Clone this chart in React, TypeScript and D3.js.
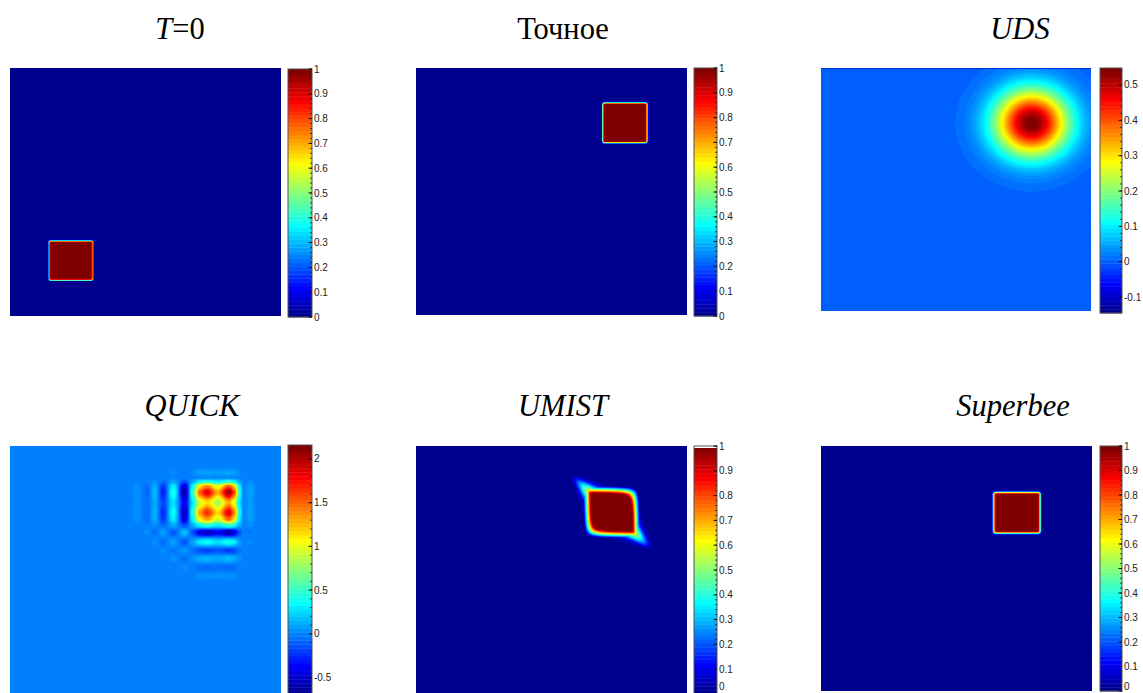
import React, { useMemo } from "react"
import * as d3 from "d3"

// panel titles, row by row
const panelTitles = ["T=0", "Точное", "UDS", "QUICK", "UMIST", "Superbee"]

// colour limits of each panel (caxis)
const colorLimits: [number, number][] = [
  [0, 1],
  [0, 1],
  [-0.145, 0.548],
  [-0.7, 2.16],
  [0, 1],
  [0, 1],
]

const unitTicks = [0, 0.1, 0.2, 0.3, 0.4, 0.5, 0.6, 0.7, 0.8, 0.9, 1]
const colorTicks = [
  unitTicks,
  unitTicks,
  [-0.1, 0, 0.1, 0.2, 0.3, 0.4, 0.5],
  [-0.5, 0, 0.5, 1, 1.5, 2],
  unitTicks,
  unitTicks,
]

// square pulses: [x0, x1, y0, y1, edge width] in unit coordinates (y up)
const squareT0 = [0.145, 0.305, 0.145, 0.302, 0.006]
const squareExact = [0.69, 0.852, 0.698, 0.858, 0.006]
const squareSuperbee = [0.638, 0.808, 0.645, 0.81, 0.012]

// UDS: smeared gaussian [cx, cy, sigma, amplitude]
const udsBlob = [0.78, 0.774, 0.095, 0.55]

// QUICK: separable profile, knots along x and along y
const quickXPos = [0.44, 0.472, 0.506, 0.535, 0.565, 0.603, 0.646, 0.675, 0.7, 0.727, 0.767, 0.808, 0.828, 0.845, 0.862, 0.886, 0.91]
const quickXVal = [0, 0.03, -0.06, 0.12, -0.2, 0.3, -0.45, 0.35, 1.05, 1.3, 0.9, 1.45, 1.1, 0.35, 0, 0.08, 0]
const quickYPos = [0.45, 0.478, 0.511, 0.547, 0.579, 0.613, 0.653, 0.68, 0.705, 0.73, 0.772, 0.814, 0.838, 0.855, 0.872, 0.891, 0.915]
const quickYVal = [0, 0.03, -0.06, 0.12, -0.15, 0.3, -0.45, 0.35, 1.05, 1.3, 0.9, 1.45, 1.1, 0.35, 0, 0.08, 0]

// UMIST: rounded square [cx, cy, half-diagonal, corner rounding, edge]
const umistBody = [0.722, 0.733, 0.107, 0.024, 0.04]
// UMIST: NW/SE smear tails [start, end, peak value, half-width]
const umistTail = [0.06, 0.205, 1.0, 0.04]

const layout = [
  { ix: 10, iy: 68, iw: 271, ih: 248, cx: 288, cy: 69, cw: 24, ch: 248, tx: 180, ty: 39 },
  { ix: 416, iy: 68, iw: 271, ih: 247, cx: 694, cy: 68, cw: 23, ch: 248, tx: 563, ty: 39 },
  { ix: 821, iy: 68, iw: 270, ih: 243, cx: 1100, cy: 68, cw: 22, ch: 245, tx: 1020, ty: 39 },
  { ix: 10, iy: 446, iw: 271, ih: 248, cx: 288, cy: 445, cw: 24, ch: 250, tx: 192, ty: 416 },
  { ix: 416, iy: 446, iw: 271, ih: 248, cx: 694, cy: 446, cw: 23, ch: 248, tx: 563, ty: 416 },
  { ix: 821, iy: 446, iw: 271, ih: 245, cx: 1100, cy: 446, cw: 22, ch: 245, tx: 1013, ty: 416 },
]

const N = 180

// MATLAB jet(64)
function jet64(): string[] {
  const m = 64, n = 16
  const u = [
    ...d3.range(1, n + 1).map(i => i / n),
    ...Array(n - 1).fill(1),
    ...d3.range(n, 0, -1).map(i => i / n),
  ]
  const J = Array.from({ length: m }, () => [0, 0, 0])
  u.forEach((v, i) => {
    const g = 8 + i + 1
    const r = g + n
    const b = g - n
    if (r <= m) J[r - 1][0] = v
    if (g <= m) J[g - 1][1] = v
    if (b >= 1) J[b - 1][2] = v
  })
  return J.map(([r, g, b]) => d3.rgb(r * 255, g * 255, b * 255).formatHex())
}
const JET = jet64()

const clamp01 = (v: number) => Math.max(0, Math.min(1, v))

function squareField(s: number[]) {
  const [x0, x1, y0, y1, e] = s
  const ramp = (d: number) => clamp01(0.5 + d / e)
  return (x: number, y: number) => ramp(x - x0) * ramp(x1 - x) * ramp(y - y0) * ramp(y1 - y)
}

function smoothProfile(pos: number[], val: number[]) {
  return d3
    .scaleLinear()
    .domain(pos)
    .range(val)
    .interpolate((a: number, b: number) => (t: number) => a + (b - a) * t * t * (3 - 2 * t))
    .clamp(true)
}

function umistField() {
  const [cx, cy, S, r, e] = umistBody
  const [t0, t1, tp, tw] = umistTail
  const tail = d3.scaleLinear().domain([t0, t1]).range([tp, 0]).clamp(true)
  const width = d3.scaleLinear().domain([t0, t1]).range([tw, tw * 0.25]).clamp(true)
  return (x: number, y: number) => {
    const dx = x - cx, dy = y - cy
    const a = Math.abs(dx - dy) / Math.SQRT2
    const b = Math.abs(dx + dy) / Math.SQRT2
    const W = S - (Math.sqrt(a * a + r * r) - r)
    const body = clamp01(0.5 + (W - b) / e)
    const t = a > t0 ? tail(a) * Math.exp(-((b / width(a)) ** 2)) : 0
    return Math.max(body, t)
  }
}

const fields: ((x: number, y: number) => number)[] = [
  squareField(squareT0),
  squareField(squareExact),
  (x, y) => {
    const [cx, cy, s, a] = udsBlob
    return a * Math.exp(-((x - cx) ** 2 + (y - cy) ** 2) / (2 * s * s))
  },
  (() => {
    const px = smoothProfile(quickXPos, quickXVal)
    const py = smoothProfile(quickYPos, quickYVal)
    return (x: number, y: number) => px(x) * py(y)
  })(),
  umistField(),
  squareField(squareSuperbee),
]

function Panel({ idx }: { idx: number }) {
  const L = layout[idx]
  const [cmin, cmax] = colorLimits[idx]
  const bands = useMemo(() => {
    const f = fields[idx]
    const values = new Float64Array(N * N)
    for (let j = 0; j < N; j++) {
      for (let i = 0; i < N; i++) {
        values[j * N + i] = f((i + 0.5) / N, 1 - (j + 0.5) / N)
      }
    }
    const thresholds = d3.range(1, 64).map(k => cmin + (k * (cmax - cmin)) / 64)
    return d3.contours().size([N, N]).thresholds(thresholds)(values as any)
  }, [idx])

  const sx = d3.scaleLinear().domain([0, N]).range([L.ix, L.ix + L.iw])
  const sy = d3.scaleLinear().domain([0, N]).range([L.iy, L.iy + L.ih])
  const path = d3.geoPath(
    d3.geoTransform({
      point(x: number, y: number) {
        this.stream.point(sx(x), sy(y))
      },
    })
  )

  const cb = d3.scaleLinear().domain([cmin, cmax]).range([L.cy + L.ch, L.cy])
  const ticks = colorTicks[idx]
  const step = ticks[1] - ticks[0]
  const minor = d3.range(Math.ceil(cmin / (step / 5)), Math.floor(cmax / (step / 5)) + 1).map(k => k * step / 5)
  const clipId = `clip${idx}`
  const title = panelTitles[idx]
  const upright = idx === 1

  return (
    <g>
      <clipPath id={clipId}>
        <rect x={L.ix} y={L.iy} width={L.iw} height={L.ih} />
      </clipPath>
      <g clipPath={`url(#${clipId})`}>
        <rect x={L.ix} y={L.iy} width={L.iw} height={L.ih} fill={JET[0]} />
        {bands.map((b, k) => (
          <path key={k} d={path(b as any) || ""} fill={JET[k + 1]} />
        ))}
      </g>
      {idx === 2 && (
        <line x1={L.ix} x2={L.ix + L.iw} y1={L.iy + 0.5} y2={L.iy + 0.5} stroke="#0030d0" strokeWidth={1} />
      )}
      {d3.range(64).map(k => (
        <rect
          key={k}
          x={L.cx}
          y={cb(cmin + ((k + 1) * (cmax - cmin)) / 64)}
          width={L.cw}
          height={cb(cmin + (k * (cmax - cmin)) / 64) - cb(cmin + ((k + 1) * (cmax - cmin)) / 64) + 0.4}
          fill={JET[k]}
        />
      ))}
      {idx === 4 && <rect x={L.cx} y={L.cy} width={L.cw} height={2} fill="#fff" />}
      <rect x={L.cx} y={L.cy} width={L.cw} height={L.ch} fill="none" stroke="#555" strokeWidth={1} />
      {minor.map((v, i) => (
        <line key={"m" + i} x1={L.cx + L.cw} x2={L.cx + L.cw - 2} y1={cb(v)} y2={cb(v)} stroke="#222" strokeWidth={0.8} />
      ))}
      {ticks.map(v => (
        <g key={v}>
          <line x1={L.cx + L.cw} x2={L.cx + L.cw - 3.5} y1={cb(v)} y2={cb(v)} stroke="#111" strokeWidth={1} />
          <text
            x={L.cx + L.cw + 2}
            y={Math.min(cb(v), 686)}
            dy="0.35em"
            fontFamily="Liberation Sans, Arial, sans-serif"
            fontSize={10}
            fill="#222"
          >
            {String(v)}
          </text>
        </g>
      ))}
      <text
        x={L.tx}
        y={L.ty}
        textAnchor="middle"
        fontFamily="Liberation Serif, Times New Roman, serif"
        fontSize={30.5}
        fill="#000"
        fontStyle={upright ? "normal" : "italic"}
      >
        {idx === 0 ? (
          <>
            <tspan fontStyle="italic">T</tspan>
            <tspan fontStyle="normal">=0</tspan>
          </>
        ) : (
          title
        )}
      </text>
    </g>
  )
}

export default function App() {
  return (
    <svg
      width={1143}
      height={693}
      style={{ position: "absolute", left: 0, top: 0, background: "#fff" }}
    >
      <rect width={1143} height={693} fill="#fff" />
      {layout.map((_, i) => (
        <Panel key={i} idx={i} />
      ))}
    </svg>
  )
}
